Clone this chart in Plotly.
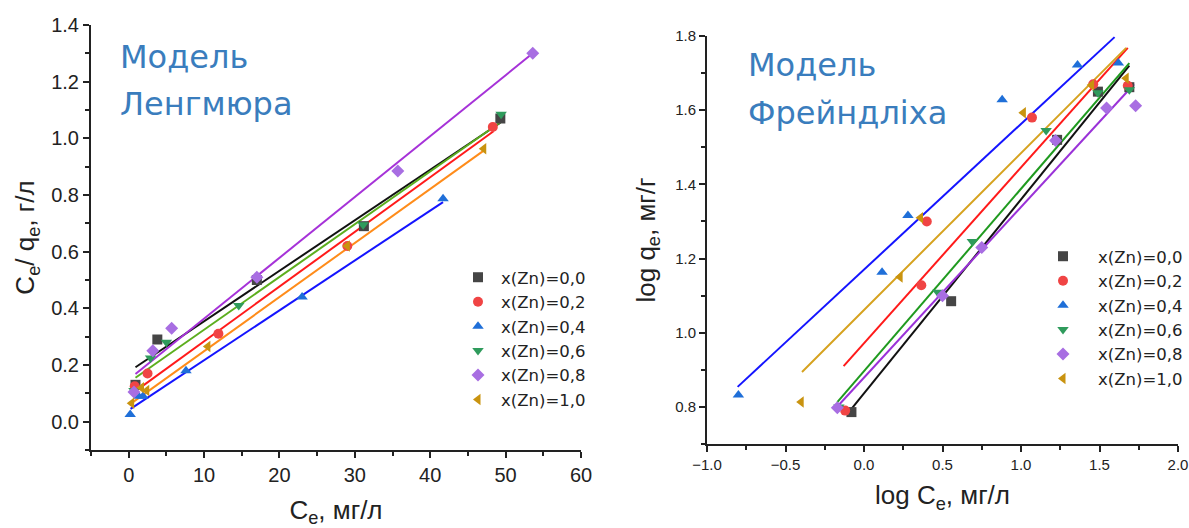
import plotly.graph_objects as go

# ---- series labels ----
labels = ["x(Zn)=0,0", "x(Zn)=0,2", "x(Zn)=0,4", "x(Zn)=0,6", "x(Zn)=0,8", "x(Zn)=1,0"]

# ---- Langmuir: Ce (mg/L) vs Ce/qe (g/L) ----
lang_ce_00 = [0.9, 3.8, 17.0, 31.2, 49.3]
lang_y_00 = [0.13, 0.29, 0.50, 0.69, 1.07]
lang_ce_02 = [0.8, 2.5, 11.9, 29.0, 48.3]
lang_y_02 = [0.125, 0.17, 0.31, 0.62, 1.04]
lang_ce_04 = [0.2, 1.3, 1.9, 7.6, 23.0, 41.7]
lang_y_04 = [0.025, 0.09, 0.09, 0.18, 0.44, 0.787]
lang_ce_06 = [0.7, 2.9, 5.0, 14.6, 31.1, 49.4]
lang_y_06 = [0.11, 0.225, 0.28, 0.41, 0.695, 1.085]
lang_ce_08 = [0.7, 3.2, 5.7, 17.0, 35.7, 53.6]
lang_y_08 = [0.105, 0.25, 0.33, 0.51, 0.885, 1.30]
lang_ce_10 = [0.4, 1.7, 2.4, 10.5, 29.0, 47.1]
lang_y_10 = [0.065, 0.12, 0.11, 0.265, 0.62, 0.963]

# Langmuir linear fits: (Ce start, Ce end), (value start, value end)
lang_fit_x = [[0.9, 49.3], [0.9, 48.4], [0.25, 41.7], [0.9, 49.6], [0.9, 53.6], [0.1, 47.0]]
lang_fit_y = [[0.192, 1.055], [0.108, 1.025], [0.045, 0.775], [0.155, 1.062], [0.168, 1.30], [0.06, 0.955]]

# ---- Freundlich: log Ce vs log qe ----
fr_x_00 = [-0.08, 0.555, 1.23, 1.49, 1.69]
fr_y_00 = [0.786, 1.085, 1.52, 1.65, 1.662]
fr_x_02 = [-0.12, 0.365, 0.40, 1.07, 1.46, 1.68]
fr_y_02 = [0.79, 1.128, 1.30, 1.58, 1.67, 1.666]
fr_x_04 = [-0.80, 0.115, 0.28, 0.88, 1.36, 1.62]
fr_y_04 = [0.832, 1.163, 1.316, 1.628, 1.722, 1.727]
fr_x_06 = [-0.16, 0.47, 0.69, 1.16, 1.49, 1.69]
fr_y_06 = [0.80, 1.109, 1.246, 1.545, 1.647, 1.655]
fr_x_08 = [-0.17, 0.50, 0.75, 1.22, 1.545, 1.73]
fr_y_08 = [0.798, 1.10, 1.23, 1.518, 1.606, 1.612]
fr_x_10 = [-0.40, 0.23, 0.36, 1.015, 1.45, 1.67]
fr_y_10 = [0.813, 1.15, 1.31, 1.593, 1.668, 1.686]

fr_fit_x = [[-0.08, 1.69], [-0.13, 1.68], [-0.805, 1.596], [-0.17, 1.69], [-0.165, 1.72], [-0.395, 1.67]]
fr_fit_y = [[0.795, 1.72], [0.91, 1.768], [0.854, 1.797], [0.813, 1.727], [0.803, 1.67], [0.894, 1.768]]

# ---- styling ----
symbols = ["square", "circle", "triangle-up", "triangle-down", "diamond", "triangle-left"]
marker_colors = ["#454545", "#f04444", "#1f6fd8", "#2f9b5c", "#a86ee2", "#c9930f"]
lang_line_colors = ["#111111", "#ff1a1a", "#1414ff", "#5cae1e", "#a632d8", "#ff8c1a"]
fr_line_colors = ["#111111", "#ff1a1a", "#1414ff", "#1f9a1f", "#9a32d8", "#d6a21e"]

lang_x = [lang_ce_00, lang_ce_02, lang_ce_04, lang_ce_06, lang_ce_08, lang_ce_10]
lang_y = [lang_y_00, lang_y_02, lang_y_04, lang_y_06, lang_y_08, lang_y_10]
fr_x = [fr_x_00, fr_x_02, fr_x_04, fr_x_06, fr_x_08, fr_x_10]
fr_y = [fr_y_00, fr_y_02, fr_y_04, fr_y_06, fr_y_08, fr_y_10]

W, H = 1189, 528
FONT = "Liberation Sans, Arial, sans-serif"
WIDE = "DejaVu Sans, Verdana, sans-serif"
TITLE_BLUE = "#3a7dbd"

fig = go.Figure()

# fit lines first so markers sit on top
for i in range(6):
    fig.add_trace(go.Scatter(x=lang_fit_x[i], y=lang_fit_y[i], mode="lines",
                             line=dict(color=lang_line_colors[i], width=2),
                             showlegend=False, hoverinfo="skip", xaxis="x", yaxis="y"))
    fig.add_trace(go.Scatter(x=fr_fit_x[i], y=fr_fit_y[i], mode="lines",
                             line=dict(color=fr_line_colors[i], width=2),
                             showlegend=False, hoverinfo="skip", xaxis="x2", yaxis="y2"))

for i in range(6):
    fig.add_trace(go.Scatter(x=lang_x[i], y=lang_y[i], mode="markers", name=labels[i],
                             marker=dict(symbol=symbols[i], size=10, color=marker_colors[i]),
                             legend="legend", xaxis="x", yaxis="y"))
for i in range(6):
    fig.add_trace(go.Scatter(x=fr_x[i], y=fr_y[i], mode="markers", name=labels[i],
                             marker=dict(symbol=symbols[i], size=10, color=marker_colors[i]),
                             legend="legend2", xaxis="x2", yaxis="y2"))


def px_x(p):
    return p / W


def px_y(p):
    return 1 - p / H


axis_common = dict(showline=True, linecolor="#222222", linewidth=2, ticks="outside",
                   ticklen=6, tickwidth=2, tickcolor="#222222", showgrid=False,
                   zeroline=False, mirror=False, automargin=False)
minor_common = dict(ticks="outside", ticklen=4, tickwidth=2, tickcolor="#222222")

fig.update_layout(
    width=W, height=H,
    margin=dict(l=0, r=0, t=0, b=0, autoexpand=False),
    paper_bgcolor="white", plot_bgcolor="white",
    font=dict(family=FONT, color="#222222"),
    xaxis=dict(domain=[px_x(91), px_x(581)], range=[-5, 60], dtick=10, tick0=0,
               tickfont=dict(size=20), anchor="y",
               minor=dict(dtick=5, **minor_common),
               title=dict(text="C<sub>e</sub>, мг/л", font=dict(size=26), standoff=22),
               **axis_common),
    yaxis=dict(domain=[px_y(450), px_y(25)], range=[-0.1, 1.4], dtick=0.2, tick0=0,
               tickformat=".1f", tickfont=dict(size=20), anchor="x",
               minor=dict(dtick=0.1, **minor_common),
               title=dict(text="C<sub>e</sub>/ q<sub>e</sub>, г/л", font=dict(size=26), standoff=9),
               **axis_common),
    xaxis2=dict(domain=[px_x(707), px_x(1178)], range=[-1, 2], dtick=0.5, tick0=0,
                tickformat=".1f", tickfont=dict(size=15), anchor="y2",
                minor=dict(dtick=0.25, **minor_common),
                title=dict(text="log C<sub>e</sub>, мг/л", font=dict(size=26), standoff=14),
                **axis_common),
    yaxis2=dict(domain=[px_y(444), px_y(36)], range=[0.7, 1.8], dtick=0.2, tick0=0.8,
                tickformat=".1f", tickfont=dict(size=15), anchor="x2",
                minor=dict(dtick=0.1, **minor_common),
                title=dict(text="log q<sub>e</sub>, мг/г", font=dict(size=26), standoff=12),
                **axis_common),
    legend=dict(x=px_x(455), y=px_y(260), xanchor="left", yanchor="top",
                bgcolor="rgba(0,0,0,0)", font=dict(size=16.5, color="#222222", family=WIDE),
                itemsizing="trace", itemwidth=36, tracegroupgap=0),
    legend2=dict(x=px_x(1028), y=px_y(239), xanchor="left", yanchor="top",
                 bgcolor="rgba(0,0,0,0)", font=dict(size=16.5, color="#222222", family=WIDE),
                 itemsizing="trace", itemwidth=60, tracegroupgap=0),
    annotations=[
        dict(text="Модель", x=px_x(118), y=px_y(57), xref="paper", yref="paper",
             xanchor="left", yanchor="middle", showarrow=False,
             font=dict(size=32, color=TITLE_BLUE, family=WIDE)),
        dict(text="Ленгмюра", x=px_x(118), y=px_y(104), xref="paper", yref="paper",
             xanchor="left", yanchor="middle", showarrow=False,
             font=dict(size=32, color=TITLE_BLUE, family=WIDE)),
        dict(text="Модель", x=px_x(746), y=px_y(65), xref="paper", yref="paper",
             xanchor="left", yanchor="middle", showarrow=False,
             font=dict(size=32, color=TITLE_BLUE, family=WIDE)),
        dict(text="Фрейндліха", x=px_x(746), y=px_y(113), xref="paper", yref="paper",
             xanchor="left", yanchor="middle", showarrow=False,
             font=dict(size=32, color=TITLE_BLUE, family=WIDE)),
    ],
)

fig.write_html("out.html")
